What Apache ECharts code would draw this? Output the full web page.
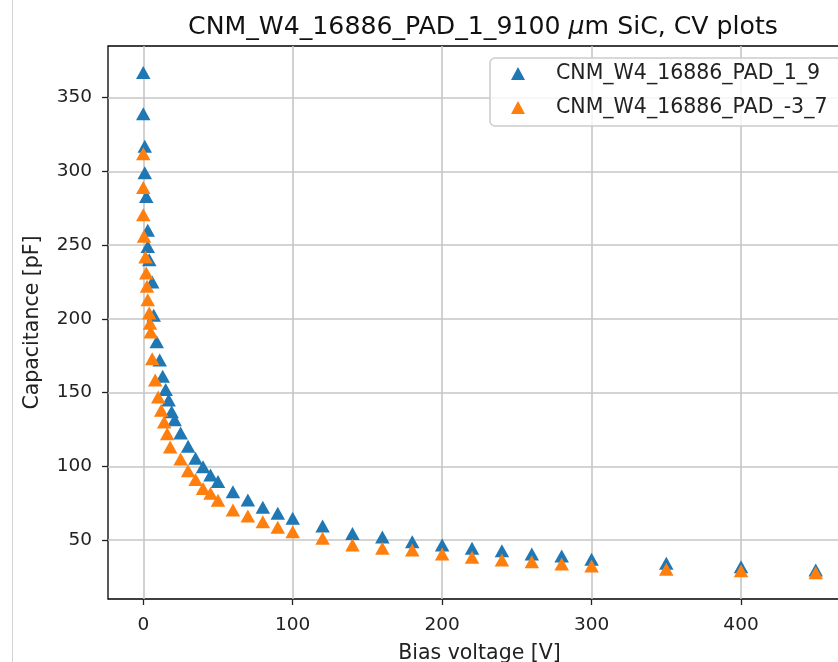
<!DOCTYPE html>
<html lang="en">
<head>
  <meta charset="UTF-8">
  <title>CV plots</title>
  <script src="https://cdn.jsdelivr.net/npm/echarts@6/dist/echarts.min.js"></script>
  <style>
    html, body { margin: 0; padding: 0; background: #fff; }
  </style>
</head>
<body>
<div id="chart" style="width: 838px; height: 662px"></div>
<script>
  // series 1: CNM_W4_16886_PAD_1_9
  const voltBlue = [0, 0, 1, 1, 2, 3, 3, 4, 6, 7, 9, 11, 13, 15, 17, 19, 21, 25, 30, 35,
    40, 45, 50, 60, 70, 80, 90, 100, 120, 140, 160, 180, 200, 220, 240, 260, 280, 300, 350, 400, 450];
  const capBlue = [367, 339, 317, 299, 283, 260, 249, 240, 225, 202.5, 184.5, 172, 161, 152, 145, 137, 131.5, 122.5, 113.5, 105.5,
    99.7, 94.1, 89.6, 82.8, 77.1, 72.2, 68.1, 64.7, 59.5, 54.5, 52, 48.8, 46.6, 44.4, 42.7, 40.5, 39.1, 36.9, 34.2, 31.9, 29.6];

  // series 2: CNM_W4_16886_PAD_-3_7
  const voltOrange = [0, 0, 0, 0.5, 1.5, 2, 2.5, 3, 4, 4.5, 5, 6, 8, 10, 12, 14, 16, 18, 25, 30,
    35, 40, 45, 50, 60, 70, 80, 90, 100, 120, 140, 160, 180, 200, 220, 240, 260, 280, 300, 350, 400, 450];
  const capOrange = [312, 289, 270.5, 256, 242, 231, 222, 213, 204, 197, 191, 173, 158.5, 147, 138, 130, 122, 113, 105, 97,
    91, 85, 81.7, 77, 70.4, 66.3, 62.4, 58.6, 55.6, 51.2, 46.6, 44.4, 43.2, 40.5, 38.3, 36.4, 35.3, 33.7, 32.4, 30.1, 29.2, 27.8];

  const seriesNames = ['CNM_W4_16886_PAD_1_9', 'CNM_W4_16886_PAD_-3_7'];
  const xTicks = [0, 100, 200, 300, 400];
  const yTicks = [50, 100, 150, 200, 250, 300, 350];

  const font = 'DejaVu Sans';
  const pairs = (xs, ys) => xs.map((x, i) => [x, ys[i]]);

  const chart = echarts.init(document.getElementById('chart'), null, { renderer: 'canvas' });

  const option = {
    animation: false,
    backgroundColor: '#fff',
    title: {
      text: '{a|CNM_W4_16886_PAD_1_9100 }{b|μ}{a|m SiC, CV plots}',
      left: 478,
      textAlign: 'center',
      top: 10,
      textStyle: {
        fontWeight: 'normal',
        rich: {
          a: { fontFamily: font, fontSize: 25.2, fontWeight: 'normal', color: '#111' },
          b: { fontFamily: font, fontSize: 25.2, fontWeight: 'normal', color: '#111', fontStyle: 'italic' }
        }
      }
    },
    legend: {
      orient: 'vertical',
      left: 490,
      top: 58,
      padding: [5, 30, 8, 21],
      itemGap: 13,
      itemWidth: 14,
      itemHeight: 13,
      icon: 'triangle',
      borderColor: '#cccccc',
      borderWidth: 1.5,
      borderRadius: 5,
      backgroundColor: 'rgba(255,255,255,0.8)',
      formatter: name => '{t|' + name + '}',
      textStyle: {
        fontFamily: font,
        fontSize: 20.5,
        color: '#222',
        rich: {
          t: { fontFamily: font, fontSize: 20.5, lineHeight: 22, color: '#222', padding: [0, 0, 0, 26] }
        }
      },
      data: seriesNames
    },
    graphic: [{
      type: 'line',
      shape: { x1: 12.5, y1: 0, x2: 12.5, y2: 662 },
      style: { stroke: '#d4d4d4', lineWidth: 1 },
      silent: true
    }],
    grid: {
      left: 108,
      top: 46,
      width: 743,
      bottom: 63,
      show: true,
      borderColor: '#000',
      borderWidth: 1.3,
      containLabel: false,
      outerBoundsMode: 'none'
    },
    xAxis: {
      type: 'value',
      min: -23.6,
      max: 473.6,
      splitNumber: 5,
      name: 'Bias voltage [V]',
      nameLocation: 'middle',
      nameGap: 44,
      nameTextStyle: { fontFamily: font, fontSize: 20.5, color: '#222' },
      axisLine: { show: false, onZero: false },
      axisTick: { show: true, length: 6, customValues: xTicks, lineStyle: { color: '#222', width: 1.3 } },
      axisLabel: { customValues: xTicks, margin: 17, fontFamily: font, fontSize: 18.5, color: '#222' },
      splitLine: { show: true, lineStyle: { color: '#c6c6c6', width: 1.6 } }
    },
    yAxis: {
      type: 'value',
      min: 10,
      max: 385,
      splitNumber: 8,
      name: 'Capacitance [pF]',
      nameLocation: 'middle',
      nameGap: 65,
      nameTextStyle: { fontFamily: font, fontSize: 20.5, color: '#222' },
      axisLine: { show: false, onZero: false },
      axisTick: { show: true, length: 6, customValues: yTicks, lineStyle: { color: '#222', width: 1.3 } },
      axisLabel: { customValues: yTicks, margin: 16, fontFamily: font, fontSize: 18.5, color: '#222' },
      splitLine: { show: true, lineStyle: { color: '#c6c6c6', width: 1.6 } }
    },
    series: [
      {
        name: seriesNames[0],
        type: 'scatter',
        symbol: 'triangle',
        symbolSize: [14.5, 13],
        itemStyle: { color: '#1f77b4', opacity: 1 },
        data: pairs(voltBlue, capBlue)
      },
      {
        name: seriesNames[1],
        type: 'scatter',
        symbol: 'triangle',
        symbolSize: [14.5, 13],
        itemStyle: { color: '#ff7f0e', opacity: 1 },
        data: pairs(voltOrange, capOrange)
      }
    ]
  };
  chart.setOption(option);
</script>
</body>
</html>
